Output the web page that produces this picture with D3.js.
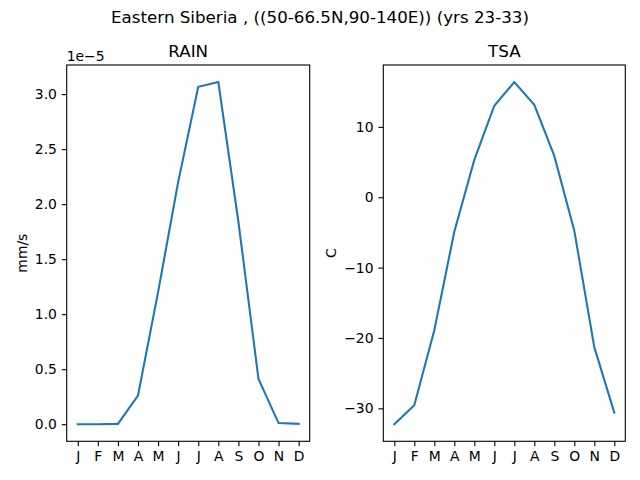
<!DOCTYPE html>
<html><head><meta charset="utf-8">
<script src="https://cdn.jsdelivr.net/npm/d3@7"></script>
<style>body{margin:0;background:#fff}svg{display:block}text{font-family:"DejaVu Sans",sans-serif;fill:#000}</style>
</head><body><svg id="c" width="640" height="480"></svg>
<script>
const months = ["J","F","M","A","M","J","J","A","S","O","N","D"];
const rainValues = [0.0, 0.0, 0.003, 0.261, 1.20, 2.20, 3.066, 3.109, 1.84, 0.412, 0.01, 0.003]; // x1e-5 mm/s
const tsaValues = [-32.25, -29.55, -18.9, -4.9, 5.3, 13.0, 16.36, 13.13, 5.87, -4.75, -21.3, -30.6];
const rainTicks = [0.0, 0.5, 1.0, 1.5, 2.0, 2.5, 3.0];
const tsaTicks = [-30, -20, -10, 0, 10];
const suptitle = "Eastern Siberia , ((50-66.5N,90-140E)) (yrs 23-33)";

const svg = d3.select("#c");
const FS = 13.9;
svg.append("text").attr("x", 320).attr("y", 22.5).attr("text-anchor", "middle")
  .style("font-size", "16.7px").text(suptitle);

function panel(opts) {
  const {x0, x1, y0, y1, values, ticks, fmt, title, ylabel, ylabelX, offset} = opts;
  const ext = d3.extent(values);
  const pad = (ext[1] - ext[0]) * 0.05;
  const x = d3.scaleLinear().domain([-0.55, 11.55]).range([x0, x1]);
  const y = d3.scaleLinear().domain([ext[0] - pad, ext[1] + pad]).range([y1, y0]);
  const g = svg.append("g");
  const xa = d3.axisBottom(x).tickValues(d3.range(12)).tickFormat(i => months[i])
    .tickSize(4.9).tickPadding(4.9);
  const gx = g.append("g").attr("transform", `translate(0,${y1})`).call(xa);
  const ya = d3.axisLeft(y).tickValues(ticks).tickFormat(fmt).tickSize(4.9).tickPadding(4.9);
  const gy = g.append("g").attr("transform", `translate(${x0},0)`).call(ya);
  [gx, gy].forEach(a => {
    a.select(".domain").remove();
    a.selectAll("text").style("font-size", FS + "px").style("font-family", "DejaVu Sans").attr("fill", "#000");
    a.selectAll("line").attr("stroke", "#000").attr("stroke-width", 1.1);
  });
  const line = d3.line().x((d, i) => x(i)).y(d => y(d));
  g.append("path").datum(values).attr("d", line).attr("fill", "none")
    .attr("stroke", "#1f77b4").attr("stroke-width", 2.08).attr("stroke-linejoin", "miter")
    .attr("stroke-linecap", "square");
  g.append("rect").attr("x", x0).attr("y", y0).attr("width", x1 - x0).attr("height", y1 - y0)
    .attr("fill", "none").attr("stroke", "#000").attr("stroke-width", 1.1);
  g.append("text").attr("x", (x0 + x1) / 2).attr("y", y0 - 7.8).attr("text-anchor", "middle")
    .style("font-size", "16.7px").text(title);
  g.append("text").attr("transform", `translate(${ylabelX},${(y0 + y1) / 2}) rotate(-90)`)
    .attr("text-anchor", "middle").style("font-size", FS + "px").text(ylabel);
  if (offset) g.append("text").attr("x", x0).attr("y", y0 - 4).style("font-size", FS + "px").text(offset);
}

panel({x0: 66.7, x1: 309.7, y0: 65, y1: 441.3, values: rainValues, ticks: rainTicks,
  fmt: d3.format(".1f"), title: "RAIN", ylabel: "mm/s", ylabelX: 27, offset: "1e\u22125"});
panel({x0: 383.3, x1: 625.3, y0: 65, y1: 441.3, values: tsaValues, ticks: tsaTicks,
  fmt: d => d3.format("d")(d).replace("-", "\u2212"), title: "TSA", ylabel: "C", ylabelX: 336});
</script></body></html>
